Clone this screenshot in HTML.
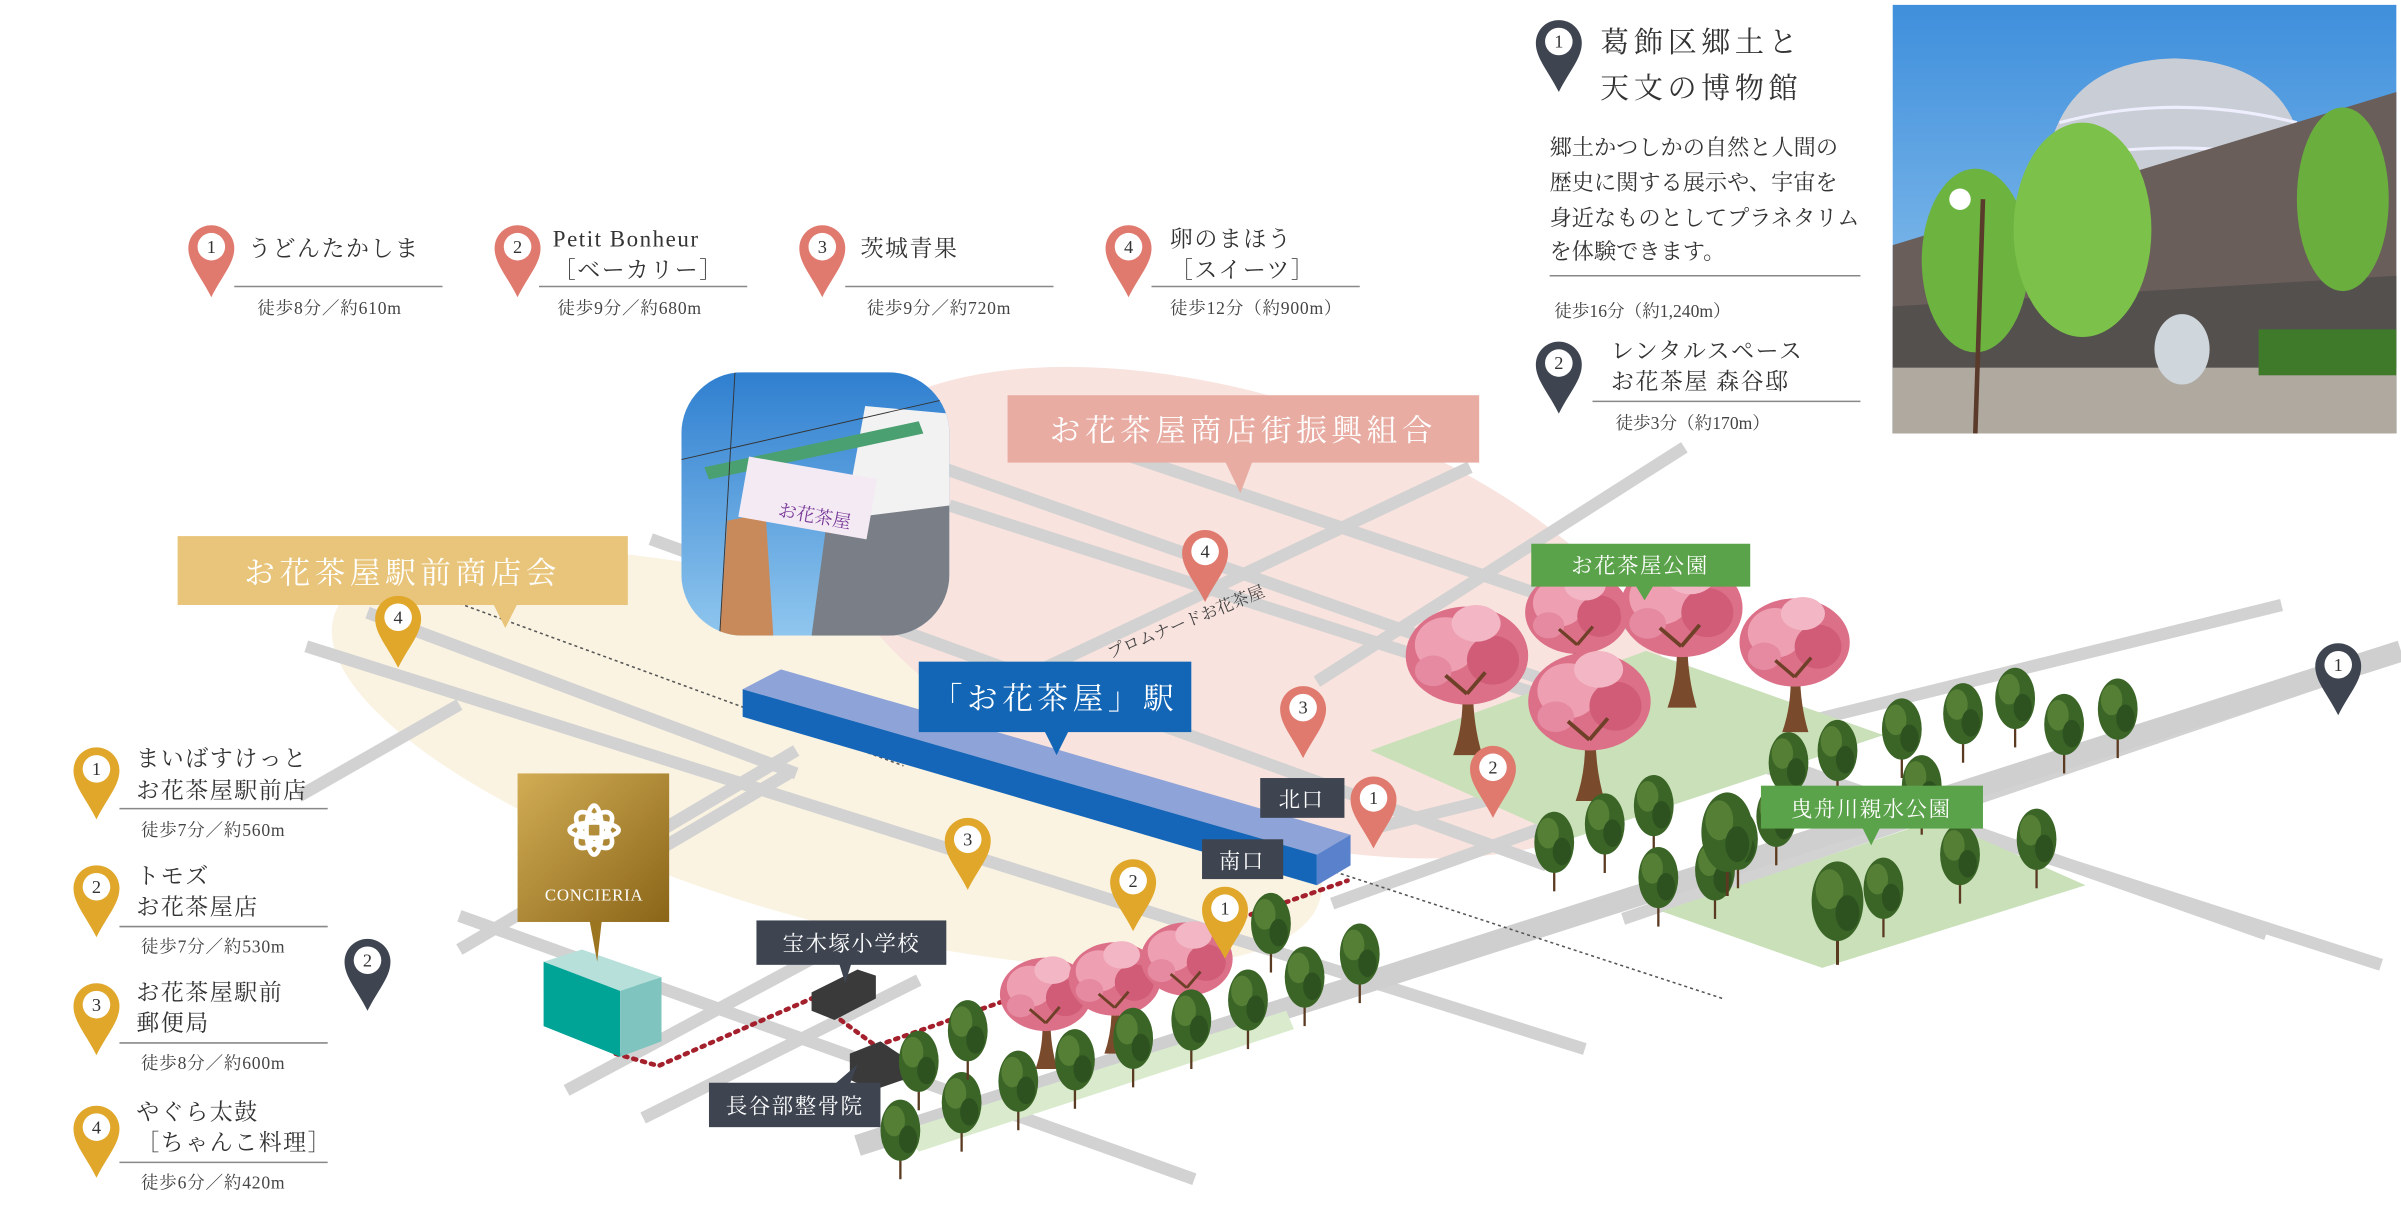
<!DOCTYPE html>
<html><head><meta charset="utf-8">
<style>
html,body{margin:0;padding:0;background:#fff;}
svg{display:block;}
text{font-family:"Liberation Serif","Noto Serif CJK JP","Noto Serif CJK SC",serif;}
</style></head><body>
<svg width="2401" height="1210" viewBox="0 0 1568 790" xmlns="http://www.w3.org/2000/svg">
<defs>
<linearGradient id="gold" x1="0" y1="0" x2="1" y2="1"><stop offset="0" stop-color="#d2ad55"/><stop offset="1" stop-color="#8a6518"/></linearGradient>
<linearGradient id="sky" x1="0" y1="0" x2="0" y2="1"><stop offset="0" stop-color="#2f7fd0"/><stop offset="1" stop-color="#8fc6ee"/></linearGradient>
<linearGradient id="sky2" x1="0" y1="0" x2="0" y2="1"><stop offset="0" stop-color="#3f8fdc"/><stop offset="1" stop-color="#9cccf0"/></linearGradient>
<clipPath id="ph1"><rect x="445" y="243" width="175" height="172" rx="40"/></clipPath>
<clipPath id="ph2"><rect x="1236" y="3" width="329" height="280"/></clipPath>
<g id="gt">
<line x1="0" y1="0" x2="0" y2="-40" stroke="#5a3a20" stroke-width="1.5"/>
<ellipse cx="0" cy="-32" rx="13" ry="20" fill="#3a6526"/>
<ellipse cx="-4" cy="-38" rx="7" ry="10" fill="#567f36"/>
<ellipse cx="5" cy="-26" rx="6" ry="9" fill="#2d5220"/>
</g>
<g id="ct">
<path d="M-9 0 Q-2 -20 -3 -42 L4 -42 Q4 -20 10 0 Z" fill="#7a4a2c"/>
<path d="M0 -40 L-20 -58 M0 -40 L18 -60 M0 -45 L-6 -70 M1 -45 L8 -72" stroke="#6e4028" stroke-width="3" fill="none"/>
<ellipse cx="0" cy="-65" rx="40" ry="32" fill="#dc7088"/>
<ellipse cx="-14" cy="-72" rx="20" ry="18" fill="#eea0b2"/>
<ellipse cx="17" cy="-62" rx="17" ry="16" fill="#d05c78"/>
<ellipse cx="6" cy="-86" rx="16" ry="12" fill="#f3b6c4"/>
<ellipse cx="-22" cy="-55" rx="12" ry="10" fill="#e58aa0"/>
<path d="M0 -40 L-14 -52 M0 -40 L12 -54" stroke="#6e4028" stroke-width="2.5" fill="none"/>
</g>
</defs>

<!-- zones -->
<ellipse cx="540" cy="495" rx="335" ry="105" transform="rotate(16 540 495)" fill="#faf3e2"/>
<ellipse cx="815" cy="400" rx="290" ry="140" transform="rotate(18 815 400)" fill="#f8e3de"/>

<!-- roads -->
<g stroke="#d2d2d2" stroke-width="8" fill="none">
<line x1="425" y1="352" x2="1010" y2="565"/>
<line x1="200" y1="422" x2="1035" y2="685"/>
<line x1="240" y1="400" x2="520" y2="505"/>
<line x1="300" y1="598" x2="780" y2="770"/>
<line x1="600" y1="300" x2="1480" y2="610"/>
<line x1="620" y1="330" x2="1555" y2="630"/>
<line x1="700" y1="285" x2="1100" y2="420"/>
<line x1="520" y1="490" x2="300" y2="620"/>
<line x1="515" y1="505" x2="430" y2="555"/>
<line x1="300" y1="460" x2="195" y2="520"/>
<line x1="370" y1="712" x2="560" y2="610"/>
<line x1="420" y1="730" x2="600" y2="640"/>
<line x1="860" y1="445" x2="1100" y2="292"/>
<line x1="600" y1="475" x2="960" y2="305"/>
<line x1="900" y1="540" x2="1490" y2="395"/>
<line x1="870" y1="590" x2="1120" y2="500"/>
<line x1="1060" y1="600" x2="1560" y2="430"/>
</g>
<line x1="560" y1="748" x2="1568" y2="425" stroke="#cfcfcf" stroke-width="14"/>

<!-- parks -->
<polygon points="895,490 1075,425 1230,480 1025,548" fill="#c9e0b8"/>
<polygon points="1085,595 1265,535 1362,578 1190,632" fill="#c9e0b8"/>
<polygon points="590,738 840,660 845,672 600,752" fill="#d9ebcc"/>

<line x1="300" y1="394" x2="590" y2="500" stroke="#555" stroke-width="1" stroke-dasharray="2,2"/>
<line x1="868" y1="568" x2="1125" y2="652" stroke="#555" stroke-width="1" stroke-dasharray="2,2"/>

<!-- station -->
<polygon points="485,450 510,437 882,545 860,558" fill="#8ea3d8"/>
<polygon points="485,450 860,558 860,578 485,468" fill="#1566b8"/>
<polygon points="860,558 882,545 882,565 860,578" fill="#5a82cc"/>

<polyline points="402,688 430,696 530,652 572,683 880,575" fill="none" stroke="#a3202c" stroke-width="3" stroke-dasharray="2,4" stroke-linecap="round"/>

<!-- buildings -->
<polygon points="355,628 380,620 432,638 405,647" fill="#b8e0da"/>
<polygon points="355,628 405,647 405,690 355,670" fill="#00a496"/>
<polygon points="405,647 432,638 432,680 405,690" fill="#7fc4bf"/>
<polygon points="530,648 560,633 572,637 572,652 545,666 530,660" fill="#3a3a3a"/>
<polygon points="555,688 575,680 590,690 590,705 570,712 555,705" fill="#3a3a3a"/>

<!-- cherry trees -->
<use href="#ct" transform="translate(1030,455) scale(0.85)"/>
<use href="#ct" transform="translate(1098,462)"/>
<use href="#ct" transform="translate(958,493)"/>
<use href="#ct" transform="translate(1172,478) scale(0.9)"/>
<use href="#ct" transform="translate(1038,523)"/>
<use href="#ct" transform="translate(683,698) scale(0.75)"/>
<use href="#ct" transform="translate(728,688) scale(0.75)"/>
<use href="#ct" transform="translate(775,675) scale(0.75)"/>

<!-- green trees -->
<g>
<use href="#gt" x="588" y="770"/><use href="#gt" x="628" y="752"/><use href="#gt" x="600" y="725"/><use href="#gt" x="632" y="705"/>
<use href="#gt" x="665" y="738"/><use href="#gt" x="702" y="724"/><use href="#gt" x="740" y="710"/><use href="#gt" x="778" y="698"/>
<use href="#gt" x="815" y="685"/><use href="#gt" x="852" y="670"/><use href="#gt" x="888" y="655"/><use href="#gt" x="830" y="635"/>
<use href="#gt" x="1015" y="582"/><use href="#gt" x="1048" y="570"/><use href="#gt" x="1080" y="558"/><use href="#gt" x="1083" y="605"/>
<use href="#gt" x="1168" y="530"/><use href="#gt" x="1200" y="522"/><use href="#gt" x="1242" y="508"/><use href="#gt" x="1282" y="498"/>
<use href="#gt" x="1316" y="488"/><use href="#gt" x="1348" y="505"/><use href="#gt" x="1383" y="495"/><use href="#gt" x="1255" y="545"/>
<use href="#gt" x="1120" y="600"/><use href="#gt" x="1135" y="580"/><use href="#gt" x="1230" y="612"/>
<use href="#gt" x="1280" y="590"/><use href="#gt" x="1330" y="580"/><use href="#gt" x="1160" y="565"/>
<use href="#gt" transform="translate(1200,630) scale(1.3)"/>
<use href="#gt" transform="translate(1128,585) scale(1.3)"/>
</g>

<!-- photo 1 -->
<g clip-path="url(#ph1)">
<rect x="445" y="243" width="175" height="172" fill="url(#sky)"/>
<polygon points="565,265 620,270 620,415 560,415 555,320" fill="#f2f2f2"/>
<polygon points="540,340 620,330 620,415 530,415" fill="#7a7e86"/>
<polygon points="475,340 500,335 505,415 470,415" fill="#c88a5a"/>
<polygon points="460,305 600,275 603,283 463,313" fill="#4aa070"/>
<rect x="485" y="305" width="85" height="40" fill="#f4eaf4" transform="rotate(10 527 325)"/>
<text x="510" y="340" font-size="12" fill="#7a3a9a" transform="rotate(10 527 325)">お花茶屋</text>
<line x1="445" y1="300" x2="620" y2="260" stroke="#333" stroke-width="0.6"/>
<line x1="480" y1="243" x2="470" y2="415" stroke="#333" stroke-width="0.6"/>
</g>

<!-- labels -->
<g font-size="20" fill="#fff" letter-spacing="3">
<rect x="658" y="258" width="308" height="44" fill="#e8aca2"/><polygon points="800,301 818,301 810,322" fill="#e8aca2"/>
<text x="812" y="288" text-anchor="middle">お花茶屋商店街振興組合</text>
<rect x="116" y="350" width="294" height="45" fill="#e8c57a"/><polygon points="322,394 338,394 330,410" fill="#e8c57a"/>
<text x="263" y="381" text-anchor="middle">お花茶屋駅前商店会</text>
<rect x="600" y="432" width="178" height="46" fill="#1266b5"/><polygon points="682,477 698,477 690,493" fill="#1266b5"/>
<text x="689" y="463" text-anchor="middle">「お花茶屋」駅</text>
</g>
<g font-size="14" fill="#fff" letter-spacing="1">
<rect x="1000" y="355" width="143" height="28" fill="#5aa34a"/><polygon points="1068,382 1080,382 1074,392" fill="#5aa34a"/>
<text x="1071" y="374" text-anchor="middle">お花茶屋公園</text>
<rect x="1150" y="513" width="145" height="28" fill="#5aa34a"/><polygon points="1216,540 1228,540 1222,552" fill="#5aa34a"/>
<text x="1222" y="533" text-anchor="middle">曳舟川親水公園</text>
<rect x="823" y="508" width="55" height="26" fill="#3e4551"/><text x="850" y="527" text-anchor="middle">北口</text>
<rect x="785" y="548" width="53" height="26" fill="#3e4551"/><text x="811" y="567" text-anchor="middle">南口</text>
<rect x="494" y="601" width="124" height="29" fill="#3e4551"/><polygon points="548,629 556,629 552,642" fill="#3e4551"/>
<text x="556" y="621" text-anchor="middle">宝木塚小学校</text>
<rect x="463" y="707" width="112" height="29" fill="#3e4551"/><polygon points="545,708 555,708 560,695" fill="#3e4551"/>
<text x="519" y="727" text-anchor="middle">長谷部整骨院</text>
</g>
<text x="725" y="430" font-size="11" fill="#444" transform="rotate(-22 725 430)">プロムナードお花茶屋</text>

<!-- concieria -->
<rect x="338" y="505" width="99" height="97" fill="url(#gold)"/>
<polygon points="385,601 393,601 390,628" fill="#9c7520"/>
<g fill="none" stroke="#fff" stroke-width="3">
<ellipse cx="388" cy="542" rx="7" ry="15" transform="rotate(45 388 542)"/>
<ellipse cx="388" cy="542" rx="7" ry="15" transform="rotate(-45 388 542)"/>
<ellipse cx="388" cy="542" rx="5" ry="16"/>
<ellipse cx="388" cy="542" rx="16" ry="5"/>
</g>
<text x="388" y="588" font-size="11" fill="#fff" text-anchor="middle" letter-spacing="0.5">CONCIERIA</text>

<!-- pins -->
<g font-family="Liberation Sans, sans-serif" font-size="12" text-anchor="middle">
<g fill="#e07a6e">
<path d="M123,162 a15,15 0 0 1 30,0 c0,10 -8,18 -15,32 c-7,-14 -15,-22 -15,-32z"/>
<path d="M323,162 a15,15 0 0 1 30,0 c0,10 -8,18 -15,32 c-7,-14 -15,-22 -15,-32z"/>
<path d="M522,162 a15,15 0 0 1 30,0 c0,10 -8,18 -15,32 c-7,-14 -15,-22 -15,-32z"/>
<path d="M722,162 a15,15 0 0 1 30,0 c0,10 -8,18 -15,32 c-7,-14 -15,-22 -15,-32z"/>
<path d="M772,361 a15,15 0 0 1 30,0 c0,10 -8,18 -15,32 c-7,-14 -15,-22 -15,-32z"/>
<path d="M836,463 a15,15 0 0 1 30,0 c0,10 -8,18 -15,32 c-7,-14 -15,-22 -15,-32z"/>
<path d="M882,522 a15,15 0 0 1 30,0 c0,10 -8,18 -15,32 c-7,-14 -15,-22 -15,-32z"/>
<path d="M960,502 a15,15 0 0 1 30,0 c0,10 -8,18 -15,32 c-7,-14 -15,-22 -15,-32z"/>
</g>
<g fill="#e0a72a">
<path d="M245,404 a15,15 0 0 1 30,0 c0,10 -8,18 -15,32 c-7,-14 -15,-22 -15,-32z"/>
<path d="M617,549 a15,15 0 0 1 30,0 c0,10 -8,18 -15,32 c-7,-14 -15,-22 -15,-32z"/>
<path d="M725,576 a15,15 0 0 1 30,0 c0,10 -8,18 -15,32 c-7,-14 -15,-22 -15,-32z"/>
<path d="M785,594 a15,15 0 0 1 30,0 c0,10 -8,18 -15,32 c-7,-14 -15,-22 -15,-32z"/>
<path d="M48,503 a15,15 0 0 1 30,0 c0,10 -8,18 -15,32 c-7,-14 -15,-22 -15,-32z"/>
<path d="M48,580 a15,15 0 0 1 30,0 c0,10 -8,18 -15,32 c-7,-14 -15,-22 -15,-32z"/>
<path d="M48,657 a15,15 0 0 1 30,0 c0,10 -8,18 -15,32 c-7,-14 -15,-22 -15,-32z"/>
<path d="M48,737 a15,15 0 0 1 30,0 c0,10 -8,18 -15,32 c-7,-14 -15,-22 -15,-32z"/>
</g>
<g fill="#3e4551">
<path d="M225,628 a15,15 0 0 1 30,0 c0,10 -8,18 -15,32 c-7,-14 -15,-22 -15,-32z"/>
<path d="M1512,435 a15,15 0 0 1 30,0 c0,10 -8,18 -15,32 c-7,-14 -15,-22 -15,-32z"/>
<path d="M1003,28 a15,15 0 0 1 30,0 c0,10 -8,18 -15,32 c-7,-14 -15,-22 -15,-32z"/>
<path d="M1003,238 a15,15 0 0 1 30,0 c0,10 -8,18 -15,32 c-7,-14 -15,-22 -15,-32z"/>
</g>
<g fill="#fff">
<circle cx="138" cy="161" r="9"/><circle cx="338" cy="161" r="9"/><circle cx="537" cy="161" r="9"/><circle cx="737" cy="161" r="9"/>
<circle cx="787" cy="360" r="9"/><circle cx="851" cy="462" r="9"/><circle cx="897" cy="521" r="9"/><circle cx="975" cy="501" r="9"/>
<circle cx="260" cy="403" r="9"/><circle cx="632" cy="548" r="9"/><circle cx="740" cy="575" r="9"/><circle cx="800" cy="593" r="9"/>
<circle cx="63" cy="502" r="9"/><circle cx="63" cy="579" r="9"/><circle cx="63" cy="656" r="9"/><circle cx="63" cy="736" r="9"/>
<circle cx="240" cy="627" r="9"/><circle cx="1527" cy="434" r="9"/><circle cx="1018" cy="27" r="9"/><circle cx="1018" cy="237" r="9"/>
</g>
<g fill="#333">
<text x="138" y="165">1</text><text x="338" y="165">2</text><text x="537" y="165">3</text><text x="737" y="165">4</text>
<text x="787" y="364">4</text><text x="851" y="466">3</text><text x="897" y="525">1</text><text x="975" y="505">2</text>
<text x="260" y="407">4</text><text x="632" y="552">3</text><text x="740" y="579">2</text><text x="800" y="597">1</text>
<text x="63" y="506">1</text><text x="63" y="583">2</text><text x="63" y="660">3</text><text x="63" y="740">4</text>
<text x="240" y="631">2</text><text x="1527" y="438">1</text><text x="1018" y="31">1</text><text x="1018" y="241">2</text>
</g>
</g>

<!-- top legend -->
<g fill="#333" font-size="15" letter-spacing="1">
<text x="162" y="167">うどんたかしま</text>
<text x="361" y="161">Petit Bonheur</text><text x="361" y="181">［ベーカリー］</text>
<text x="562" y="167">茨城青果</text>
<text x="764" y="161">卵のまほう</text><text x="764" y="181">［スイーツ］</text>
</g>
<g stroke="#888" stroke-width="1">
<line x1="153" y1="187" x2="289" y2="187"/><line x1="352" y1="187" x2="488" y2="187"/>
<line x1="552" y1="187" x2="688" y2="187"/><line x1="752" y1="187" x2="888" y2="187"/>
</g>
<g fill="#444" font-size="11.5" letter-spacing="0.5">
<text x="168" y="205">徒歩8分／約610m</text><text x="364" y="205">徒歩9分／約680m</text>
<text x="566" y="205">徒歩9分／約720m</text><text x="764" y="205">徒歩12分（約900m）</text>
</g>

<!-- left legend -->
<g fill="#333" font-size="15" letter-spacing="1">
<text x="89" y="500">まいばすけっと</text><text x="89" y="521">お花茶屋駅前店</text>
<text x="89" y="577">トモズ</text><text x="89" y="597">お花茶屋店</text>
<text x="89" y="653">お花茶屋駅前</text><text x="89" y="673">郵便局</text>
<text x="89" y="731">やぐら太鼓</text><text x="89" y="751">［ちゃんこ料理］</text>
</g>
<g stroke="#888" stroke-width="1">
<line x1="78" y1="528" x2="214" y2="528"/><line x1="78" y1="605" x2="214" y2="605"/>
<line x1="78" y1="681" x2="214" y2="681"/><line x1="78" y1="759" x2="214" y2="759"/>
</g>
<g fill="#444" font-size="11.5" letter-spacing="0.5">
<text x="92" y="546">徒歩7分／約560m</text><text x="92" y="622">徒歩7分／約530m</text>
<text x="92" y="698">徒歩8分／約600m</text><text x="92" y="776">徒歩6分／約420m</text>
</g>

<!-- top right -->
<g fill="#333">
<text x="1045" y="34" font-size="19" letter-spacing="3">葛飾区郷土と</text>
<text x="1045" y="64" font-size="19" letter-spacing="3">天文の博物館</text>
<g font-size="14.5">
<text x="1012" y="101">郷土かつしかの自然と人間の</text>
<text x="1012" y="124">歴史に関する展示や、宇宙を</text>
<text x="1012" y="147">身近なものとしてプラネタリム</text>
<text x="1012" y="169">を体験できます。</text>
</g>
<text x="1015" y="207" font-size="11.5" fill="#444">徒歩16分（約1,240m）</text>
<text x="1052" y="234" font-size="15" letter-spacing="1">レンタルスペース</text>
<text x="1052" y="254" font-size="15" letter-spacing="1">お花茶屋 森谷邸</text>
<text x="1055" y="280" font-size="11.5" fill="#444">徒歩3分（約170m）</text>
</g>
<g stroke="#888" stroke-width="1"><line x1="1012" y1="180" x2="1215" y2="180"/><line x1="1040" y1="262" x2="1215" y2="262"/></g>

<!-- photo 2 -->
<g clip-path="url(#ph2)">
<rect x="1236" y="3" width="329" height="280" fill="url(#sky2)"/>
<path d="M1335,120 Q1340,40 1420,38 Q1500,40 1505,110 Z" fill="#c9ced6"/>
<path d="M1345,80 Q1420,60 1500,80 M1338,105 Q1420,88 1505,105" stroke="#eef" stroke-width="2" fill="none"/>
<polygon points="1236,160 1565,60 1565,283 1236,283" fill="#6a5e5a"/>
<polygon points="1236,200 1565,180 1565,283 1236,283" fill="#54504e"/>
<rect x="1236" y="240" width="329" height="43" fill="#b0a9a0"/>
<ellipse cx="1290" cy="170" rx="35" ry="60" fill="#6db340"/>
<ellipse cx="1360" cy="150" rx="45" ry="70" fill="#7cc24a"/>
<ellipse cx="1530" cy="130" rx="30" ry="60" fill="#6aae3e"/>
<rect x="1475" y="215" width="90" height="30" fill="#3f7a2a"/>
<ellipse cx="1425" cy="228" rx="18" ry="23" fill="#cfd6dc"/>
<line x1="1295" y1="130" x2="1290" y2="283" stroke="#5a3a2a" stroke-width="3"/>
<circle cx="1280" cy="130" r="7" fill="#fff"/>
</g>
</svg>
</body></html>
